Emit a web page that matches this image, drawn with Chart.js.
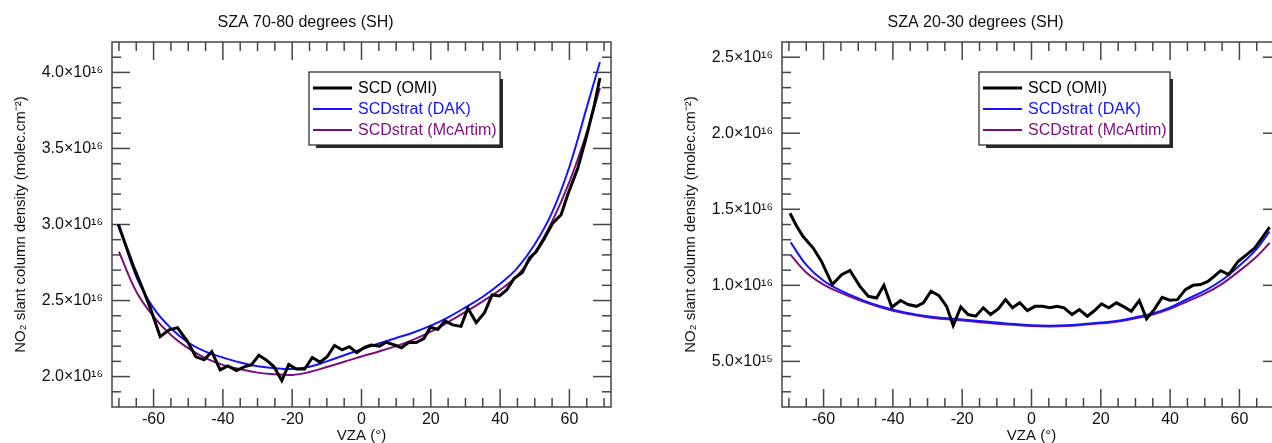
<!DOCTYPE html>
<html>
<head>
<meta charset="utf-8">
<script src="https://cdn.jsdelivr.net/npm/chart.js@4.4.0/dist/chart.umd.min.js"></script>
<style>
  html, body { margin: 0; padding: 0; background: #fff; overflow: hidden; }
  body { width: 1272px; height: 443px; position: relative; }
  .panel { position: absolute; top: 0; width: 640px; height: 443px; }
  #left { left: 0; }
  #right { left: 670px; }
</style>
</head>
<body>
<div class="panel" id="left"><canvas id="sza7080" width="640" height="443"></canvas></div>
<div class="panel" id="right"><canvas id="sza2030" width="640" height="443"></canvas></div>
<script>
  // values are NO2 slant columns in units of 1e16 molec/cm2

  // SZA 70-80 degrees (SH)
  const vzaOmi7080 = [-70.2,-67.9,-65.6,-63.4,-61.1,-58.1,-55.5,-53.1,-50.2,-47.8,-45.4,-43.2,-40.8,-38.6,-36.1,-33.7,-31.8,-29.6,-27.5,-25.3,-23.0,-21.0,-18.8,-16.4,-14.2,-12.0,-9.9,-7.8,-5.6,-3.5,-1.4,0.9,2.8,5.2,7.1,9.5,11.5,13.6,15.8,18.0,19.9,22.0,24.1,26.3,28.7,30.7,33.1,35.5,37.7,39.8,41.9,44.1,46.4,48.5,50.4,52.8,55.2,57.6,59.5,62.4,64.8,67.2,68.8];
  const scdOmi7080 = [3.00,2.855,2.713,2.592,2.46,2.263,2.307,2.322,2.23,2.13,2.11,2.164,2.044,2.07,2.04,2.066,2.077,2.14,2.11,2.066,1.974,2.08,2.05,2.05,2.125,2.095,2.13,2.204,2.176,2.197,2.158,2.193,2.208,2.20,2.226,2.208,2.19,2.224,2.224,2.25,2.325,2.31,2.366,2.34,2.33,2.45,2.355,2.42,2.537,2.53,2.57,2.647,2.684,2.78,2.82,2.91,3.009,3.064,3.195,3.37,3.568,3.787,3.963];
  const vzaModel7080 = [-70,-65,-60,-55,-50,-45,-40,-35,-30,-25,-20,-15,-10,-5,0,5,10,15,20,25,30,35,40,45,50,55,60,65,68.8];
  const dak7080 = [3.00,2.658,2.45,2.318,2.224,2.164,2.125,2.092,2.068,2.055,2.05,2.064,2.10,2.14,2.18,2.218,2.254,2.29,2.335,2.39,2.455,2.525,2.61,2.715,2.87,3.08,3.38,3.77,4.068];
  const mcartim7080 = [2.822,2.559,2.395,2.274,2.187,2.121,2.077,2.049,2.026,2.016,2.011,2.03,2.063,2.097,2.132,2.165,2.20,2.243,2.296,2.358,2.425,2.495,2.57,2.665,2.815,3.02,3.28,3.605,3.897];
  const yTicks7080 = [2.0,2.5,3.0,3.5,4.0];

  // SZA 20-30 degrees (SH)
  const vzaOmi2030 = [-69.7,-67.8,-65.9,-63.0,-60.6,-57.5,-54.8,-52.4,-49.5,-47.1,-44.7,-42.6,-40.3,-37.8,-35.6,-33.2,-31.2,-29.0,-26.7,-24.5,-22.6,-20.4,-18.3,-16.1,-13.9,-11.8,-9.6,-7.5,-5.5,-3.4,-1.2,1.0,3.1,5.3,7.4,9.4,11.7,13.8,16.1,18.3,20.2,22.3,24.5,26.7,28.8,31.1,33.2,35.4,37.7,39.9,42.1,44.4,46.6,48.8,50.9,52.7,54.6,56.9,59.6,62.0,64.4,66.5,68.7];
  const scdOmi2030 = [1.474,1.39,1.321,1.245,1.157,1.005,1.07,1.098,0.993,0.928,0.917,1.0,0.856,0.9,0.874,0.862,0.885,0.961,0.932,0.862,0.736,0.858,0.808,0.797,0.852,0.808,0.845,0.906,0.852,0.885,0.834,0.862,0.862,0.852,0.862,0.852,0.808,0.841,0.797,0.836,0.878,0.852,0.885,0.858,0.83,0.9,0.78,0.84,0.921,0.902,0.906,0.972,1.0,1.005,1.026,1.059,1.096,1.07,1.157,1.2,1.245,1.311,1.383];
  const vzaModel2030 = [-69.5,-65,-60,-55,-50,-45,-40,-35,-30,-25,-20,-15,-10,-5,0,5,10,15,20,25,30,35,40,45,50,55,60,65,68.7];
  const dak2030 = [1.282,1.135,1.03,0.965,0.915,0.872,0.84,0.815,0.797,0.785,0.775,0.765,0.755,0.745,0.738,0.735,0.737,0.745,0.755,0.768,0.79,0.815,0.855,0.91,0.965,1.035,1.13,1.24,1.354];
  const mcartim2030 = [1.2,1.085,1.005,0.95,0.905,0.865,0.833,0.81,0.79,0.778,0.768,0.758,0.748,0.74,0.733,0.73,0.732,0.74,0.75,0.762,0.783,0.808,0.845,0.895,0.945,1.01,1.095,1.19,1.278];
  const yTicks2030 = [0.5,1.0,1.5,2.0,2.5];

  const xTicks = [-60,-40,-20,0,20,40,60];
  const seriesNames = ['SCD (OMI)', 'SCDstrat (DAK)', 'SCDstrat (McArtim)'];
  const seriesColors = ['#000000', '#1414ff', '#7d0f7d'];

  const FONT = '"Liberation Sans", Arial, Helvetica, sans-serif';
  Chart.defaults.font.family = FONT;
  Chart.defaults.color = '#111';

  const SUP = {'0':'⁰','1':'¹','2':'²','3':'³','4':'⁴','5':'⁵','6':'⁶','7':'⁷','8':'⁸','9':'⁹','-':'⁻'};
  function sciLabel(v) {
    const val = v * 1e16;
    const e = Math.floor(Math.log10(val) + 1e-9);
    const m = val / Math.pow(10, e);
    return m.toFixed(1) + '×10' + String(e).split('').map(c => SUP[c]).join('');
  }

  // box with inward ticks on all four sides
  const inwardTicks = {
    id: 'inwardTicks',
    beforeDatasetsDraw(chart) {
      const {ctx, chartArea: a, scales: {x, y}} = chart;
      ctx.save();
      ctx.strokeStyle = '#464646';
      ctx.lineWidth = 1.5;
      const seg = (x1, y1, x2, y2) => { ctx.beginPath(); ctx.moveTo(x1, y1); ctx.lineTo(x2, y2); ctx.stroke(); };
      for (let v = -70; v <= 70; v += 5) {
        const px = x.getPixelForValue(v);
        const len = v % 20 === 0 ? 18 : 9;
        seg(px, a.bottom, px, a.bottom - len);
        seg(px, a.top, px, a.top + len);
      }
      const k0 = Math.round(y.min * 10) + 1, k1 = Math.round(y.max * 10) - 1;
      for (let k = k0; k <= k1; k++) {
        const py = y.getPixelForValue(k / 10);
        const len = k % 5 === 0 ? 18 : 9;
        seg(a.left, py, a.left + len, py);
        seg(a.right, py, a.right - len, py);
      }
      ctx.strokeRect(a.left, a.top, a.right - a.left, a.bottom - a.top);
      ctx.restore();
    }
  };

  // framed legend with a drop shadow, inside the plot
  const boxLegend = {
    id: 'boxLegend',
    afterDraw(chart) {
      const {ctx, chartArea: a} = chart;
      const x = a.left + 197, y = a.top + 30, w = 191, h = 73;
      ctx.save();
      ctx.fillStyle = '#2a2a2a';
      ctx.fillRect(x + 7, y + h, w - 4, 3);
      ctx.fillRect(x + w, y + 7, 3, h - 4);
      ctx.fillStyle = '#fff';
      ctx.fillRect(x, y, w, h);
      ctx.strokeStyle = '#222';
      ctx.lineWidth = 1.2;
      ctx.strokeRect(x, y, w, h);
      ctx.font = '16px ' + FONT;
      ctx.textBaseline = 'middle';
      chart.data.datasets.forEach((ds, i) => {
        const ry = y + 16 + 21 * i;
        ctx.strokeStyle = ds.borderColor;
        ctx.lineWidth = ds.borderWidth;
        ctx.beginPath(); ctx.moveTo(x + 4, ry); ctx.lineTo(x + 43, ry); ctx.stroke();
        ctx.fillStyle = ds.borderColor;
        ctx.fillText(ds.label, x + 49, ry + 1);
      });
      ctx.restore();
    }
  };

  function pairs(xs, ys) {
    return xs.map((v, i) => ({x: v, y: ys[i]}));
  }

  function makeChart(id, title, yMin, yMax, yTicks, vzaOmi, omi, vzaModel, dak, mca) {
    new Chart(document.getElementById(id), {
      type: 'line',
      data: {
        datasets: [
          { label: seriesNames[0], data: pairs(vzaOmi, omi), borderColor: seriesColors[0], borderWidth: 3, pointRadius: 0, tension: 0 },
          { label: seriesNames[1], data: pairs(vzaModel, dak), borderColor: seriesColors[1], borderWidth: 2, pointRadius: 0, tension: 0.4 },
          { label: seriesNames[2], data: pairs(vzaModel, mca), borderColor: seriesColors[2], borderWidth: 2, pointRadius: 0, tension: 0.4 }
        ]
      },
      options: {
        responsive: false,
        animation: false,
        devicePixelRatio: 1,
        layout: { padding: { left: 0, right: 29, top: 0, bottom: 0 } },
        plugins: {
          legend: { display: false },
          tooltip: { enabled: false },
          title: {
            display: true,
            text: title,
            color: '#111',
            font: { size: 16, weight: 'normal' },
            padding: { top: 13, bottom: 9.8 }
          }
        },
        scales: {
          x: {
            type: 'linear',
            min: -72,
            max: 72,
            grid: { display: false, drawTicks: false },
            border: { display: false },
            afterBuildTicks: s => { s.ticks = xTicks.map(v => ({value: v})); },
            afterFit: s => { s.height = 36; },
            ticks: { font: { size: 16 }, padding: 3, maxRotation: 0, callback: v => String(v) },
            title: { display: true, text: 'VZA (°)', font: { size: 15, lineHeight: 1 }, padding: { top: 0, bottom: 0 } }
          },
          y: {
            type: 'linear',
            min: yMin,
            max: yMax,
            grid: { display: false, drawTicks: false },
            border: { display: false },
            afterBuildTicks: s => { s.ticks = yTicks.map(v => ({value: v})); },
            afterFit: s => { s.width = 112; },
            ticks: { font: { size: 16 }, padding: 9, callback: v => sciLabel(v) },
            title: { display: true, text: 'NO₂ slant column density (molec.cm⁻²)', font: { size: 15 }, padding: { top: 12, bottom: 0 } }
          }
        }
      },
      plugins: [inwardTicks, boxLegend]
    });
  }

  makeChart('sza7080', 'SZA 70-80 degrees (SH)', 1.8, 4.2, yTicks7080, vzaOmi7080, scdOmi7080, vzaModel7080, dak7080, mcartim7080);
  makeChart('sza2030', 'SZA 20-30 degrees (SH)', 0.2, 2.6, yTicks2030, vzaOmi2030, scdOmi2030, vzaModel2030, dak2030, mcartim2030);
</script>
</body>
</html>
